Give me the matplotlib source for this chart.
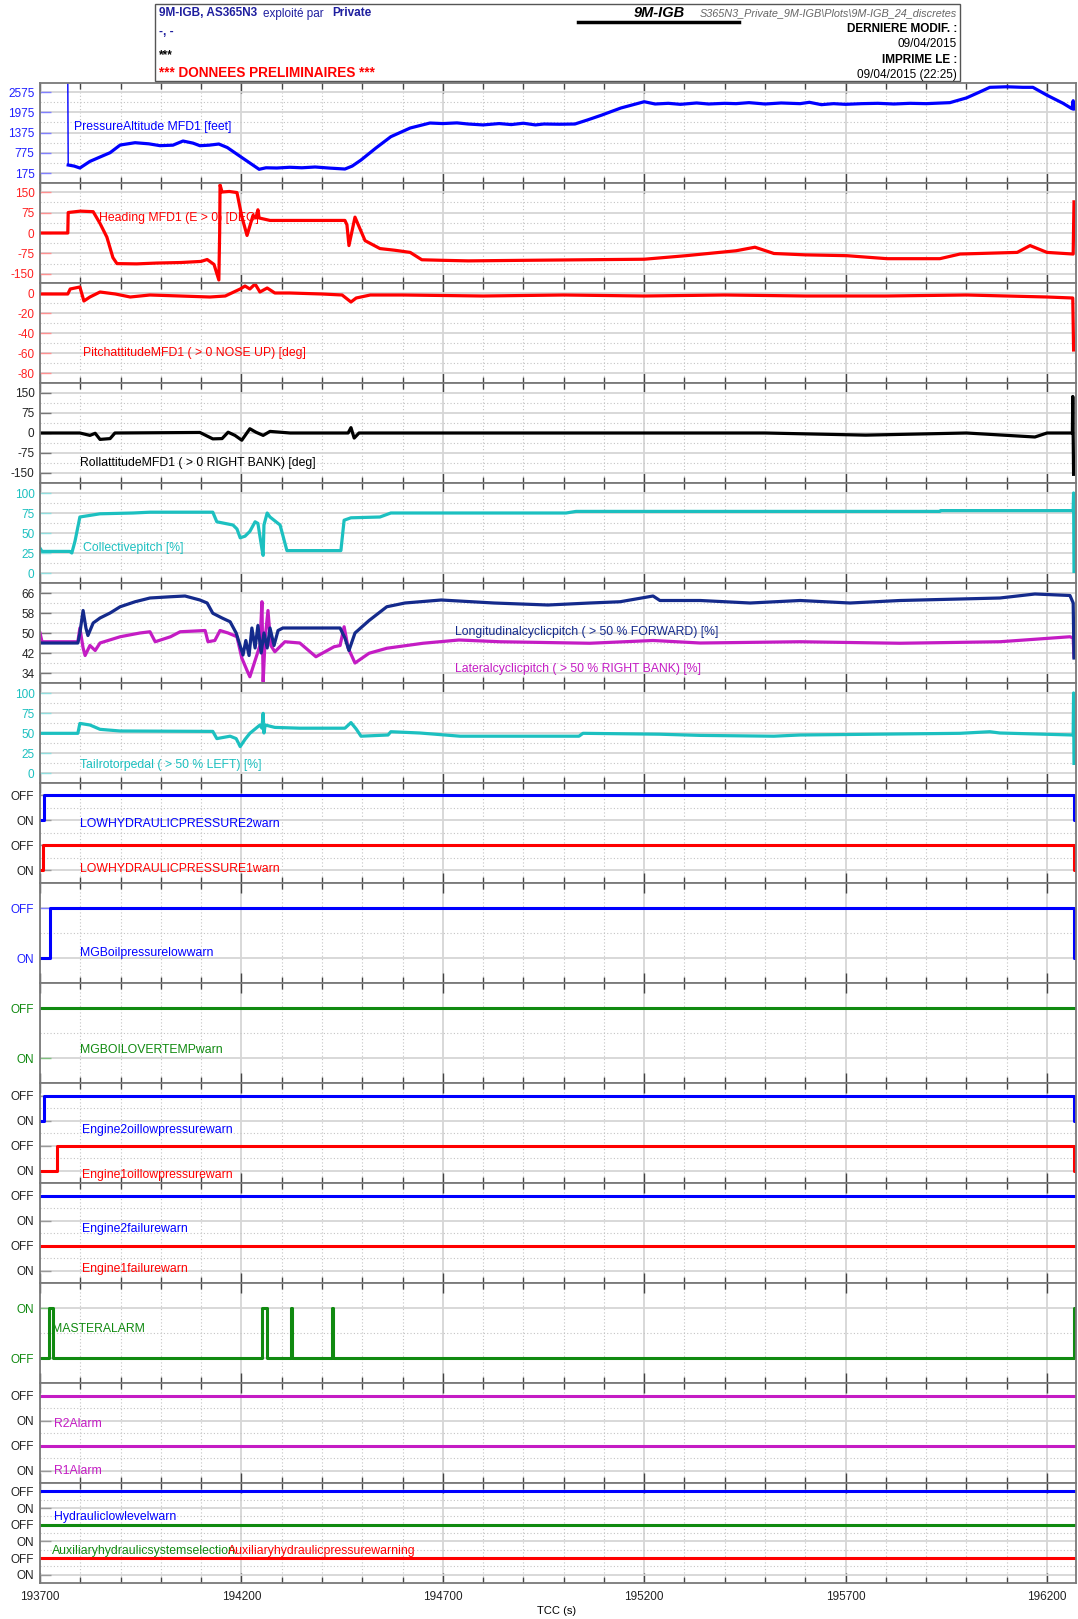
import numpy as np
import matplotlib.pyplot as plt
from matplotlib.ticker import FixedLocator, MultipleLocator
from matplotlib.lines import Line2D
from matplotlib.patches import Rectangle

plt.rcParams['font.family'] = ['Liberation Sans', 'DejaVu Sans']
plt.rcParams['axes.unicode_minus'] = False

# ---- data (time in TCC seconds) ----
pa_t = [193769, 193770, 193785, 193799, 193824, 193849, 193874, 193899, 193936, 193970,
        193998, 194030, 194055, 194080, 194097, 194120, 194144, 194165, 194192, 194220,
        194244, 194261, 194288, 194320, 194350, 194383, 194420, 194457, 194475, 194497,
        194534, 194571, 194619, 194668, 194700, 194735, 194763, 194800, 194840, 194870,
        194900, 194930, 194951, 194990, 195028, 195060, 195095, 195142, 195200, 195227,
        195260, 195290, 195330, 195360, 195400, 195428, 195460, 195500, 195540, 195587,
        195610, 195640, 195670, 195700, 195740, 195780, 195820, 195860, 195900, 195959,
        196000, 196030, 196058, 196100, 196140, 196165, 196200, 196240, 196262, 196265, 196267]
pa_v = [3000, 412, 380, 323, 520, 649, 777, 1004, 1073, 1040,
        985, 1000, 1123, 1060, 984, 1000, 1034, 930, 708, 480,
        285, 330, 323, 345, 330, 353, 320, 293, 380, 560,
        916, 1251, 1508, 1656, 1640, 1660, 1627, 1600, 1640, 1610,
        1650, 1600, 1627, 1620, 1627, 1750, 1893, 2101, 2287, 2220,
        2240, 2210, 2250, 2220, 2240, 2230, 2260, 2220, 2250, 2230,
        2270, 2200, 2230, 2210, 2230, 2240, 2220, 2240, 2230, 2260,
        2400, 2560, 2714, 2730, 2714, 2714, 2480, 2240, 2080, 2317, 2071]

hd_t = [193700, 193769, 193770, 193800, 193832, 193849, 193866, 193881, 193891, 193940,
        193990, 194050, 194100, 194115, 194132, 194144, 194146, 194147, 194152, 194170,
        194189, 194201, 194214, 194229, 194236, 194241, 194244, 194271, 194350, 194457,
        194462, 194467, 194482, 194507, 194544, 194580, 194619, 194648, 194700, 194763,
        194900, 195048, 195200, 195304, 195428, 195475, 195522, 195600, 195703, 195803,
        195934, 195984, 196126, 196158, 196200, 196265, 196267]
hd_v = [0, 0, 75, 80, 78, 35, -15, -90, -112, -113,
        -110, -108, -104, -97, -115, -172, 0, 176, 150, 152,
        148, 60, -9, 65, 55, 85, 55, 46, 46, 46,
        30, -46, 58, -28, -57, -63, -71, -98, -100, -102,
        -100, -98, -96, -83, -65, -52, -75, -80, -83, -94,
        -94, -77, -71, -46, -71, -77, 114]

pt_t = [193700, 193769, 193775, 193799, 193809, 193824, 193849, 193887, 193924, 193973,
        194048, 194122, 194160, 194197, 194209, 194221, 194234, 194246, 194264, 194283,
        194320, 194400, 194450, 194472, 194485, 194520, 194600, 194800, 195000, 195200,
        195400, 195600, 195800, 196000, 196200, 196264, 196266]
pt_v = [-1, -1, 4, 6, -8, -4, 1, -1, -4, -2,
        -3, -4, -3, 4, 7, 4, 9, 1, 5, 0,
        0, -1, -2, -9, -5, -2, -2, -3, -2, -3,
        -2, -3, -3, -2, -4, -5, -57]

rl_t = [193700, 193799, 193824, 193837, 193849, 193874, 193886, 194097, 194129, 194152,
        194167, 194184, 194201, 194221, 194236, 194254, 194271, 194321, 194465, 194472,
        194480, 194492, 194700, 195000, 195300, 195500, 195750, 196000, 196170, 196200,
        196263, 196264, 196266]
rl_v = [0, 0, -9, -1, -24, -21, 0, 2, -22, -21,
        3, -9, -27, 16, 3, -9, 6, 0, 0, 20,
        -19, 0, 0, 0, 0, 0, -8, 0, -15, 0,
        0, 137, -155]

cp_t = [193700, 193705, 193774, 193779, 193787, 193799, 193849, 193931, 193973, 194129,
        194139, 194179, 194189, 194197, 194209, 194221, 194234, 194241, 194251, 194254,
        194256, 194264, 194271, 194296, 194313, 194447, 194455, 194472, 194544, 194571,
        195006, 195031, 195934, 195936, 196265, 196266, 196267]
cp_v = [31, 27, 27, 25, 40, 70, 74, 75, 76, 76,
        64, 60, 55, 44, 46, 52, 64, 62, 30, 22,
        60, 75, 70, 60, 28, 28, 66, 69, 70, 75,
        75, 77, 77, 78, 78, 100, 2]

lo_t = [193700, 193794, 193799, 193807, 193814, 193819, 193832, 193849, 193874, 193899,
        193936, 193973, 194024, 194060, 194097, 194115, 194129, 194152, 194172, 194187,
        194204, 194211, 194219, 194226, 194234, 194241, 194249, 194256, 194264, 194271,
        194281, 194291, 194303, 194445, 194457, 194467, 194482, 194517, 194561, 194606,
        194696, 194827, 194961, 195065, 195140, 195222, 195239, 195339, 195463, 195587,
        195711, 195835, 195959, 196083, 196170, 196257, 196265, 196267]
lo_v = [46, 46, 50, 59, 52, 49, 54, 56, 58, 60.5,
        62.5, 64, 64.5, 64.8, 63.2, 62, 57.9, 56, 54.5, 50,
        41.2, 47, 41, 52, 44, 53, 42, 50, 44, 52,
        45, 51, 52, 52, 48, 43, 50, 55, 60.5, 62,
        63.2, 62, 61.2, 62, 62.5, 64.8, 63, 63, 62, 63,
        62, 63, 63.5, 64, 65.6, 65, 62, 40]

la_t = [193700, 193705, 193794, 193799, 193807, 193812, 193824, 193837, 193849, 193899,
        193948, 193973, 193986, 194024, 194048, 194110, 194117, 194134, 194147, 194167,
        194189, 194201, 194214, 194221, 194234, 194246, 194251, 194254, 194259, 194266,
        194273, 194283, 194308, 194345, 194385, 194430, 194445, 194455, 194465, 194482,
        194517, 194561, 194651, 194740, 194842, 195065, 195222, 195339, 195587, 195835,
        196083, 196257, 196265, 196267]
la_v = [50, 46.5, 46.5, 52, 44, 41, 45, 43, 46, 48.5,
        50, 50.5, 46.5, 48.5, 50.5, 51, 46.5, 47, 51, 50,
        48.5, 40, 35, 32.5, 39, 45, 62.5, 30.5, 48, 59,
        45, 42.5, 46.5, 46, 40.5, 44.5, 45, 52.5, 44, 38,
        41.9, 43.9, 45.9, 47.2, 46.5, 45.9, 47, 46, 46.5, 45.9,
        46.5, 48.5, 48, 40.5]

tr_t = [193700, 193794, 193799, 193824, 193849, 193899, 194129, 194139, 194172, 194187,
        194197, 194209, 194221, 194246, 194251, 194254, 194256, 194259, 194283, 194345,
        194457, 194472, 194485, 194497, 194564, 194571, 194643, 194743, 195038, 195048,
        195237, 195339, 195522, 195587, 195984, 196058, 196083, 196265, 196266, 196267]
tr_v = [49.6, 49.6, 62, 60, 54.6, 52.5, 52, 43, 46, 43,
        33, 42, 49.6, 60, 56, 74.6, 50, 60, 57, 56,
        56, 63, 55, 46, 47.5, 51.6, 50, 46, 46, 49.6,
        48.5, 47, 46, 47.5, 49.6, 51.6, 50, 47.5, 100, 12]

# discrete signals: (times, states) held until the next change
hyd2_t, hyd2_v = [193700, 193710, 196268, 196272], [2, 3, 2, 2]
hyd1_t, hyd1_v = [193700, 193708, 196268, 196272], [0, 1, 0, 0]
mgbp_t, mgbp_v = [193700, 193724, 196268, 196272], [0, 1, 0, 0]
mgbt_t, mgbt_v = [193700, 196272], [1, 1]
e2oil_t, e2oil_v = [193700, 193710, 196268, 196272], [2, 3, 2, 2]
e1oil_t, e1oil_v = [193700, 193742, 196268, 196272], [0, 1, 0, 0]
e2f_t, e2f_v = [193700, 196272], [3, 3]
e1f_t, e1f_v = [193700, 196272], [1, 1]
ma_t = [193700, 193723, 193733, 194251, 194263, 194324, 194326, 194426, 194428, 196267, 196272]
ma_v = [0, 1, 0, 1, 0, 1, 0, 1, 0, 1, 1]
r2_t, r2_v = [193700, 196272], [3, 3]
r1_t, r1_v = [193700, 196272], [1, 1]
hll_t, hll_v = [193700, 196272], [5, 5]
axs_t, axs_v = [193700, 196272], [3, 3]
axp_t, axp_v = [193700, 196272], [1, 1]

x_ticks = [193700, 194200, 194700, 195200, 195700, 196200]

BLUE = '#0000ff'
RED = '#ff0000'
CYAN = '#1cc0c0'
NAVY = '#142a8c'
MAG = '#c41cc4'
GREEN = '#108a10'
DARK = '#222222'

W, H = 1078, 1619
fig = plt.figure(figsize=(W / 100, H / 100), dpi=100)
LEFT, RIGHT, TOP0, PH = 40, 1076, 83, 100
X0, X1 = 193700, 196272


def ft(x, y, s, **kw):
    kw.setdefault('va', 'center')
    kw.setdefault('fontsize', 8.8)
    return fig.text(x / W, 1 - y / H, s, **kw)


def panel(i, ylim, ticks, labels=None, lcolor=DARK, tcolor='#999999', last=False):
    ax = fig.add_axes([LEFT / W, 1 - (TOP0 + (i + 1) * PH) / H, (RIGHT - LEFT) / W, PH / H])
    ax.set_xlim(X0, X1)
    ax.set_ylim(*ylim)
    ax.xaxis.set_major_locator(FixedLocator(x_ticks))
    ax.xaxis.set_minor_locator(MultipleLocator(100))
    ax.yaxis.set_major_locator(FixedLocator(ticks))
    mids = [(a + b) / 2 for a, b in zip(ticks[:-1], ticks[1:])]
    ax.yaxis.set_minor_locator(FixedLocator(mids))
    if labels is not None:
        ax.set_yticklabels(labels)
    ax.grid(which='major', axis='both', color='#d6d6d6', lw=1.3, ls='-')
    ax.grid(which='minor', axis='both', color='#c4c4c4', lw=0.8, ls=(0, (1, 2)))
    ax.set_axisbelow(True)
    ax.tick_params(axis='x', which='major', direction='in', top=True, bottom=True,
                   length=7, width=1, color='#444444', labelbottom=last,
                   labelsize=8.5, labelcolor=DARK, pad=6)
    ax.tick_params(axis='x', which='minor', direction='in', top=True, bottom=True,
                   length=4, width=1, color='#444444')
    ax.tick_params(axis='y', which='major', direction='in', length=8, width=1,
                   color=tcolor, labelcolor=lcolor, labelsize=8.5, pad=4)
    ax.tick_params(axis='y', which='minor', length=0)
    for sp in ax.spines.values():
        sp.set_color('#7a7a7a')
        sp.set_linewidth(1.3)
    return ax


LW = 2.3
SW = 2.2

ax = panel(0, (-121, 2842), [175, 775, 1375, 1975, 2575], lcolor='#2020ff', tcolor='#8080ff')
ax.plot(pa_t[:2], pa_v[:2], color=BLUE, lw=1.0)
ax.plot(pa_t[1:], pa_v[1:], color=BLUE, lw=LW)

ax = panel(1, (-183, 183), [-150, -75, 0, 75, 150], lcolor='#ff2020', tcolor='#ff9090')
ax.plot(hd_t, hd_v, color=RED, lw=LW)

ax = panel(2, (-90, 10), [-80, -60, -40, -20, 0], lcolor='#ff2020', tcolor='#ff9090')
ax.plot(pt_t, pt_v, color=RED, lw=LW)

ax = panel(3, (-187.5, 187.5), [-150, -75, 0, 75, 150], lcolor=DARK, tcolor='#777777')
ax.plot(rl_t, rl_v, color='black', lw=LW)

ax = panel(4, (-12.5, 112.5), [0, 25, 50, 75, 100], lcolor=CYAN, tcolor='#90dede')
ax.plot(cp_t, cp_v, color=CYAN, lw=LW)

ax = panel(5, (30, 70), [34, 42, 50, 58, 66], lcolor=DARK, tcolor='#777777')
ax.plot(la_t, la_v, color=MAG, lw=LW)
ax.plot(lo_t, lo_v, color=NAVY, lw=LW)

ax = panel(6, (-12.5, 112.5), [0, 25, 50, 75, 100], lcolor=CYAN, tcolor='#90dede')
ax.plot(tr_t, tr_v, color=CYAN, lw=LW)

four = ['ON', 'OFF', 'ON', 'OFF']
two = ['ON', 'OFF']

ax = panel(7, (-0.5, 3.5), [0, 1, 2, 3], four)
ax.plot(hyd2_t, hyd2_v, color=BLUE, lw=SW, drawstyle='steps-post')
ax.plot(hyd1_t, hyd1_v, color=RED, lw=SW, drawstyle='steps-post')

ax = panel(8, (-0.5, 1.5), [0, 1], two, lcolor='#2020ff', tcolor='#8080ff')
ax.plot(mgbp_t, mgbp_v, color=BLUE, lw=SW, drawstyle='steps-post')

ax = panel(9, (-0.5, 1.5), [0, 1], two, lcolor=GREEN, tcolor='#80c080')
ax.plot(mgbt_t, mgbt_v, color=GREEN, lw=SW, drawstyle='steps-post')

ax = panel(10, (-0.5, 3.5), [0, 1, 2, 3], four)
ax.plot(e2oil_t, e2oil_v, color=BLUE, lw=SW, drawstyle='steps-post')
ax.plot(e1oil_t, e1oil_v, color=RED, lw=SW, drawstyle='steps-post')

ax = panel(11, (-0.5, 3.5), [0, 1, 2, 3], four)
ax.plot(e2f_t, e2f_v, color=BLUE, lw=SW, drawstyle='steps-post')
ax.plot(e1f_t, e1f_v, color=RED, lw=SW, drawstyle='steps-post')

ax = panel(12, (-0.5, 1.5), [0, 1], ['OFF', 'ON'], lcolor=GREEN, tcolor='#80c080')
ax.plot(ma_t, ma_v, color=GREEN, lw=SW, drawstyle='steps-post')

ax = panel(13, (-0.5, 3.5), [0, 1, 2, 3], four)
ax.plot(r2_t, r2_v, color=MAG, lw=SW, drawstyle='steps-post')
ax.plot(r1_t, r1_v, color=MAG, lw=SW, drawstyle='steps-post')

ax = panel(14, (-0.5, 5.5), [0, 1, 2, 3, 4, 5], four + two, last=True)
ax.plot(hll_t, hll_v, color=BLUE, lw=SW, drawstyle='steps-post')
ax.plot(axs_t, axs_v, color=GREEN, lw=SW, drawstyle='steps-post')
ax.plot(axp_t, axp_v, color=RED, lw=SW, drawstyle='steps-post')

ft(557, 1611, 'TCC (s)', ha='center', fontsize=8)

# series names inside the panels
ft(74, 127, 'PressureAltitude MFD1 [feet]', color=BLUE)
ft(99, 218, 'Heading MFD1 (E > 0) [DEG]', color=RED)
ft(83, 353, 'PitchattitudeMFD1 ( > 0 NOSE UP) [deg]', color=RED)
ft(80, 463, 'RollattitudeMFD1 ( > 0 RIGHT BANK) [deg]', color='black')
ft(83, 548, 'Collectivepitch [%]', color=CYAN)
ft(455, 632, 'Longitudinalcyclicpitch ( > 50 % FORWARD) [%]', color=NAVY)
ft(455, 669, 'Lateralcyclicpitch ( > 50 % RIGHT BANK) [%]', color=MAG)
ft(80, 765, 'Tailrotorpedal ( > 50 % LEFT) [%]', color=CYAN)
ft(80, 824, 'LOWHYDRAULICPRESSURE2warn', color=BLUE)
ft(80, 869, 'LOWHYDRAULICPRESSURE1warn', color=RED)
ft(80, 953, 'MGBoilpressurelowwarn', color=BLUE)
ft(80, 1050, 'MGBOILOVERTEMPwarn', color=GREEN)
ft(82, 1130, 'Engine2oillowpressurewarn', color=BLUE)
ft(82, 1175, 'Engine1oillowpressurewarn', color=RED)
ft(82, 1229, 'Engine2failurewarn', color=BLUE)
ft(82, 1269, 'Engine1failurewarn', color=RED)
ft(52, 1329, 'MASTERALARM', color=GREEN)
ft(54, 1424, 'R2Alarm', color=MAG)
ft(54, 1471, 'R1Alarm', color=MAG)
ft(54, 1517, 'Hydrauliclowlevelwarn', color=BLUE)
ft(52, 1551, 'Auxiliaryhydraulicsystemselection', color=GREEN)
ft(228, 1551, 'Auxiliaryhydraulicpressurewarning', color=RED)

# header box
fig.add_artist(Rectangle((155 / W, 1 - 81 / H), (960 - 155) / W, 77 / H,
                         transform=fig.transFigure, fill=False, ec='#555555', lw=1.0))
NB = '#1f1f9f'
ft(159, 16.5, '9M-IGB, AS365N3', color=NB, fontweight='bold', va='baseline', fontsize=8.5)
ft(263, 16.5, 'exploité par', color=NB, va='baseline', fontsize=8.5)
ft(332, 16.5, 'Private', color=NB, fontweight='bold', va='baseline', fontsize=8.5)
ft(159, 35, '-, -', color=NB, fontweight='bold', va='baseline', fontsize=8.5)
ft(159, 58, '***', color='black', fontweight='bold', va='baseline', fontsize=8.5)
ft(159, 77, '*** DONNEES PRELIMINAIRES ***', color=RED, fontweight='bold',
   fontsize=9.8, va='baseline')
ft(685, 17, '9M-IGB', ha='right', fontweight='bold', style='italic', fontsize=10.5,
   va='baseline')
ft(957, 16.5, 'S365N3_Private_9M-IGB\\Plots\\9M-IGB_24_discretes', ha='right',
   style='italic', color='#666666', fontsize=7.8, va='baseline')
fig.add_artist(Line2D([578 / W, 739 / W], [1 - 22 / H, 1 - 22 / H],
                      transform=fig.transFigure, color='black', lw=2.5))
ft(957, 32, 'DERNIERE MODIF. :', ha='right', fontweight='bold', va='baseline', fontsize=8.5)
ft(957, 47, '09/04/2015', ha='right', va='baseline', fontsize=8.5)
ft(957, 63, 'IMPRIME LE :', ha='right', fontweight='bold', va='baseline', fontsize=8.5)
ft(957, 78, '09/04/2015 (22:25)', ha='right', va='baseline', fontsize=8.5)

fig.savefig('out.png', dpi=100)
